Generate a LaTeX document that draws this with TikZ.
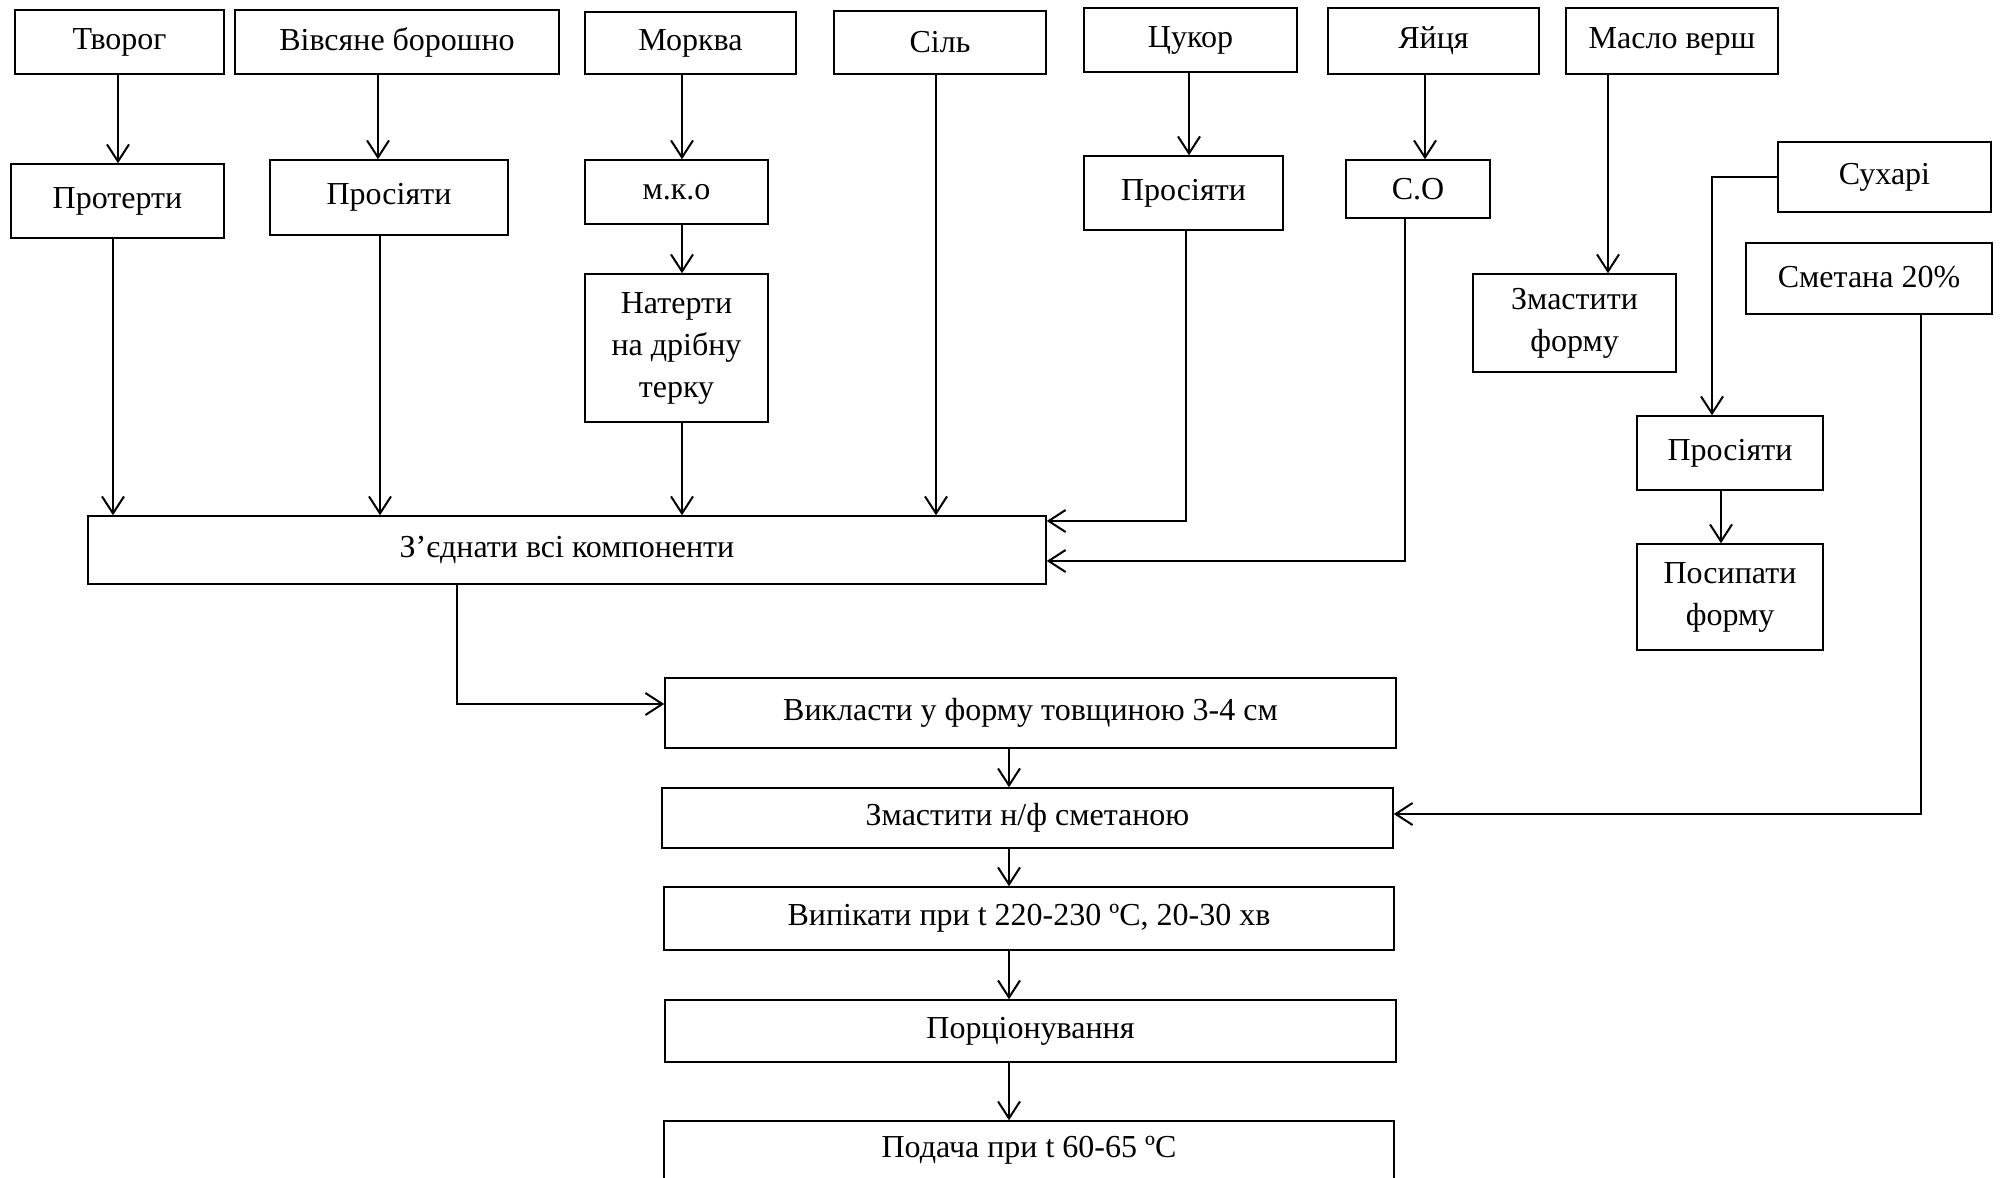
\documentclass[tikz,border=0pt]{standalone}
\usepackage{fontspec}
\setmainfont{Liberation Serif}
\usetikzlibrary{arrows.meta,calc}
\tikzset{
  box/.style={draw, line width=1.5pt, inner sep=0pt, align=center, font=\fontsize{32}{42}\selectfont},
  arr/.style={line width=2pt, -{Straight Barb[length=17pt,width=22pt,line width=2pt]}},
}
\newcommand\bx[6]{\node[box, minimum width={(#4-#2)*1pt}, minimum height={(#5-#3)*1pt}] (#1) at ({(#2+#4)/2},{(#3+#5)/2}) {#6};}
\newcommand\up[1]{\raisebox{4pt}{#1}}
\begin{document}
\begin{tikzpicture}[x=1pt,y=-1pt]
\useasboundingbox (0,0) rectangle (2000,1178);
\clip (0,0) rectangle (2000,1178);
% boxes
\bx{tvorog}{15}{10}{224}{74}{Творог}
\bx{vivs}{235}{10}{559}{74}{Вівсяне борошно}
\bx{morkva}{585}{12}{796}{74}{Морква}
\bx{sil}{834}{11}{1046}{74}{Сіль}
\bx{tsukor}{1084}{8}{1297}{72}{Цукор}
\bx{yaitsia}{1328}{8}{1539}{74}{Яйця}
\bx{maslo}{1566}{8}{1778}{74}{Масло верш}
\bx{proterty}{11}{164}{224}{238}{\up{Протерти}}
\bx{pros1}{270}{160}{508}{235}{\up{Просіяти}}
\bx{mko}{585}{160}{768}{224}{м.к.о}
\bx{naterty}{585}{274}{768}{422}{Натерти\\на дрібну\\терку}
\bx{pros2}{1084}{156}{1283}{230}{\up{Просіяти}}
\bx{so}{1346}{160}{1490}{218}{С.О}
\bx{zmform}{1473}{274}{1676}{372}{Змастити\\форму}
\bx{sukhari}{1778}{142}{1991}{212}{\up{Сухарі}}
\bx{smetana}{1746}{243}{1992}{314}{\up{Сметана 20\%}}
\bx{pros3}{1637}{416}{1823}{490}{\up{Просіяти}}
\bx{posyp}{1637}{544}{1823}{650}{Посипати\\форму}
\bx{zjed}{88}{516}{1046}{584}{З’єднати всі компоненти}
\bx{vykl}{665}{678}{1396}{748}{Викласти у форму товщиною 3-4 см}
\bx{zmnf}{662}{788}{1393}{848}{Змастити н/ф сметаною}
\bx{vypik}{664}{887}{1394}{950}{Випікати при t 220-230 ºC, 20-30 хв}
\bx{ports}{665}{1000}{1396}{1062}{Порціонування}
\bx{podacha}{664}{1121}{1394}{1180}{Подача при t 60-65 ºC}
% helper coordinates
\coordinate (x118) at (118,0);
\coordinate (x378) at (378,0);
\coordinate (x682) at (682,0);
\coordinate (x113) at (113,0);
\coordinate (x380) at (380,0);
\coordinate (x936) at (936,0);
\coordinate (x1189) at (1189,0);
\coordinate (x1186) at (1186,0);
\coordinate (x1425) at (1425,0);
\coordinate (x1405) at (1405,0);
\coordinate (x1608) at (1608,0);
\coordinate (x1712) at (1712,0);
\coordinate (x1721) at (1721,0);
\coordinate (x1921) at (1921,0);
\coordinate (x457) at (457,0);
\coordinate (x1009) at (1009,0);
\coordinate (y521) at (0,521);
\coordinate (y561) at (0,561);
\coordinate (y177) at (0,177);
\coordinate (y814) at (0,814);
\coordinate (y704) at (0,704);
% connectors
\draw[arr] (tvorog.south -| x118) -- (proterty.north -| x118);
\draw[arr] (vivs.south -| x378) -- (pros1.north -| x378);
\draw[arr] (morkva.south -| x682) -- (mko.north -| x682);
\draw[arr] (mko.south -| x682) -- (naterty.north -| x682);
\draw[arr] (proterty.south -| x113) -- (zjed.north -| x113);
\draw[arr] (pros1.south -| x380) -- (zjed.north -| x380);
\draw[arr] (naterty.south -| x682) -- (zjed.north -| x682);
\draw[arr] (sil.south -| x936) -- (zjed.north -| x936);
\draw[arr] (tsukor.south -| x1189) -- (pros2.north -| x1189);
\draw[arr] (pros2.south -| x1186) |- (zjed.east |- y521);
\draw[arr] (yaitsia.south -| x1425) -- (so.north -| x1425);
\draw[arr] (so.south -| x1405) |- (zjed.east |- y561);
\draw[arr] (maslo.south -| x1608) -- (zmform.north -| x1608);
\draw[arr] (sukhari.west |- y177) -| (pros3.north -| x1712);
\draw[arr] (pros3.south -| x1721) -- (posyp.north -| x1721);
\draw[arr] (smetana.south -| x1921) |- (zmnf.east |- y814);
\draw[arr] (zjed.south -| x457) |- (vykl.west |- y704);
\draw[arr] (vykl.south -| x1009) -- (zmnf.north -| x1009);
\draw[arr] (zmnf.south -| x1009) -- (vypik.north -| x1009);
\draw[arr] (vypik.south -| x1009) -- (ports.north -| x1009);
\draw[arr] (ports.south -| x1009) -- (podacha.north -| x1009);
\end{tikzpicture}
\end{document}
